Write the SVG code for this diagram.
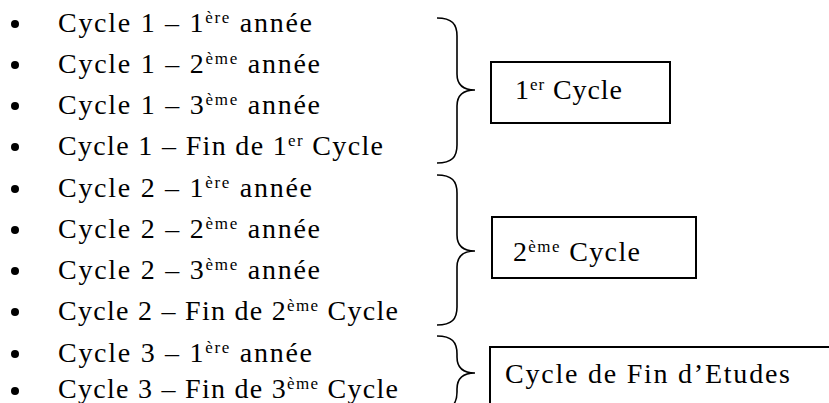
<svg xmlns="http://www.w3.org/2000/svg" width="829" height="403" viewBox="0 0 829 403">
<style>
text{font-family:"Liberation Serif","Times New Roman",serif;font-size:28px;fill:#000}
.sup{font-size:17px}
.brace{fill:none;stroke:#000;stroke-width:1.6}
.box{fill:#fff;stroke:#000;stroke-width:2}
</style>
<g id="list">
<g fill="#000">
<circle cx="15" cy="24" r="4"/><circle cx="15" cy="65" r="4"/><circle cx="15" cy="106" r="4"/><circle cx="15" cy="147" r="4"/><circle cx="15" cy="189" r="4"/><circle cx="15" cy="230" r="4"/><circle cx="15" cy="271" r="4"/><circle cx="15" cy="312" r="4"/><circle cx="15" cy="354" r="4"/><circle cx="15" cy="391" r="4"/>
</g>
<text x="58" y="32" textLength="254" lengthAdjust="spacing">Cycle 1 – 1<tspan class="sup" dy="-9">ère</tspan><tspan dy="9"> année</tspan></text>
<text x="58" y="73" textLength="262" lengthAdjust="spacing">Cycle 1 – 2<tspan class="sup" dy="-9">ème</tspan><tspan dy="9"> année</tspan></text>
<text x="58" y="114" textLength="262" lengthAdjust="spacing">Cycle 1 – 3<tspan class="sup" dy="-9">ème</tspan><tspan dy="9"> année</tspan></text>
<text x="58" y="155" textLength="325" lengthAdjust="spacing">Cycle 1 – Fin de 1<tspan class="sup" dy="-9">er</tspan><tspan dy="9"> Cycle</tspan></text>
<text x="58" y="197" textLength="254" lengthAdjust="spacing">Cycle 2 – 1<tspan class="sup" dy="-9">ère</tspan><tspan dy="9"> année</tspan></text>
<text x="58" y="238" textLength="262" lengthAdjust="spacing">Cycle 2 – 2<tspan class="sup" dy="-9">ème</tspan><tspan dy="9"> année</tspan></text>
<text x="58" y="279" textLength="262" lengthAdjust="spacing">Cycle 2 – 3<tspan class="sup" dy="-9">ème</tspan><tspan dy="9"> année</tspan></text>
<text x="58" y="320" textLength="340" lengthAdjust="spacing">Cycle 2 – Fin de 2<tspan class="sup" dy="-9">ème</tspan><tspan dy="9"> Cycle</tspan></text>
<text x="58" y="362" textLength="254" lengthAdjust="spacing">Cycle 3 – 1<tspan class="sup" dy="-9">ère</tspan><tspan dy="9"> année</tspan></text>
<text x="58" y="398" textLength="340" lengthAdjust="spacing">Cycle 3 – Fin de 3<tspan class="sup" dy="-9">ème</tspan><tspan dy="9"> Cycle</tspan></text>
</g>
<g id="connectors">
<path class="brace" d="M437,18 C452,18 457,24 457,36 L457,74 C457,84 463,90 475,90 C463,90 457,96 457,106 L457,145 C457,157 452,163 437,163"/>
<path class="brace" d="M437,175 C452,175 457,181 457,193 L457,235 C457,245 463,251 475,251 C463,251 457,257 457,267 L457,307 C457,319 452,325 437,325"/>
<path class="brace" d="M437,336 C452,336 457,342 457,354 L457,357 C457,367 463,373 475,373 C463,373 457,379 457,389 L457,392 C457,404 452,410 437,410"/>
</g>
<g id="cycle1">
<rect class="box" x="491" y="62" width="179" height="61"/>
<text x="515" y="99" textLength="107" lengthAdjust="spacing">1<tspan class="sup" dy="-9">er</tspan><tspan dy="9"> Cycle</tspan></text>
</g>
<g id="cycle2">
<rect class="box" x="492" y="217" width="204" height="61"/>
<text x="513" y="261" textLength="127" lengthAdjust="spacing">2<tspan class="sup" dy="-9">ème</tspan><tspan dy="9"> Cycle</tspan></text>
</g>
<g id="cycle3">
<rect class="box" x="490" y="347" width="400" height="100"/>
<text x="505" y="383" textLength="285" lengthAdjust="spacing">Cycle de Fin d’Etudes</text>
</g>
</svg>
